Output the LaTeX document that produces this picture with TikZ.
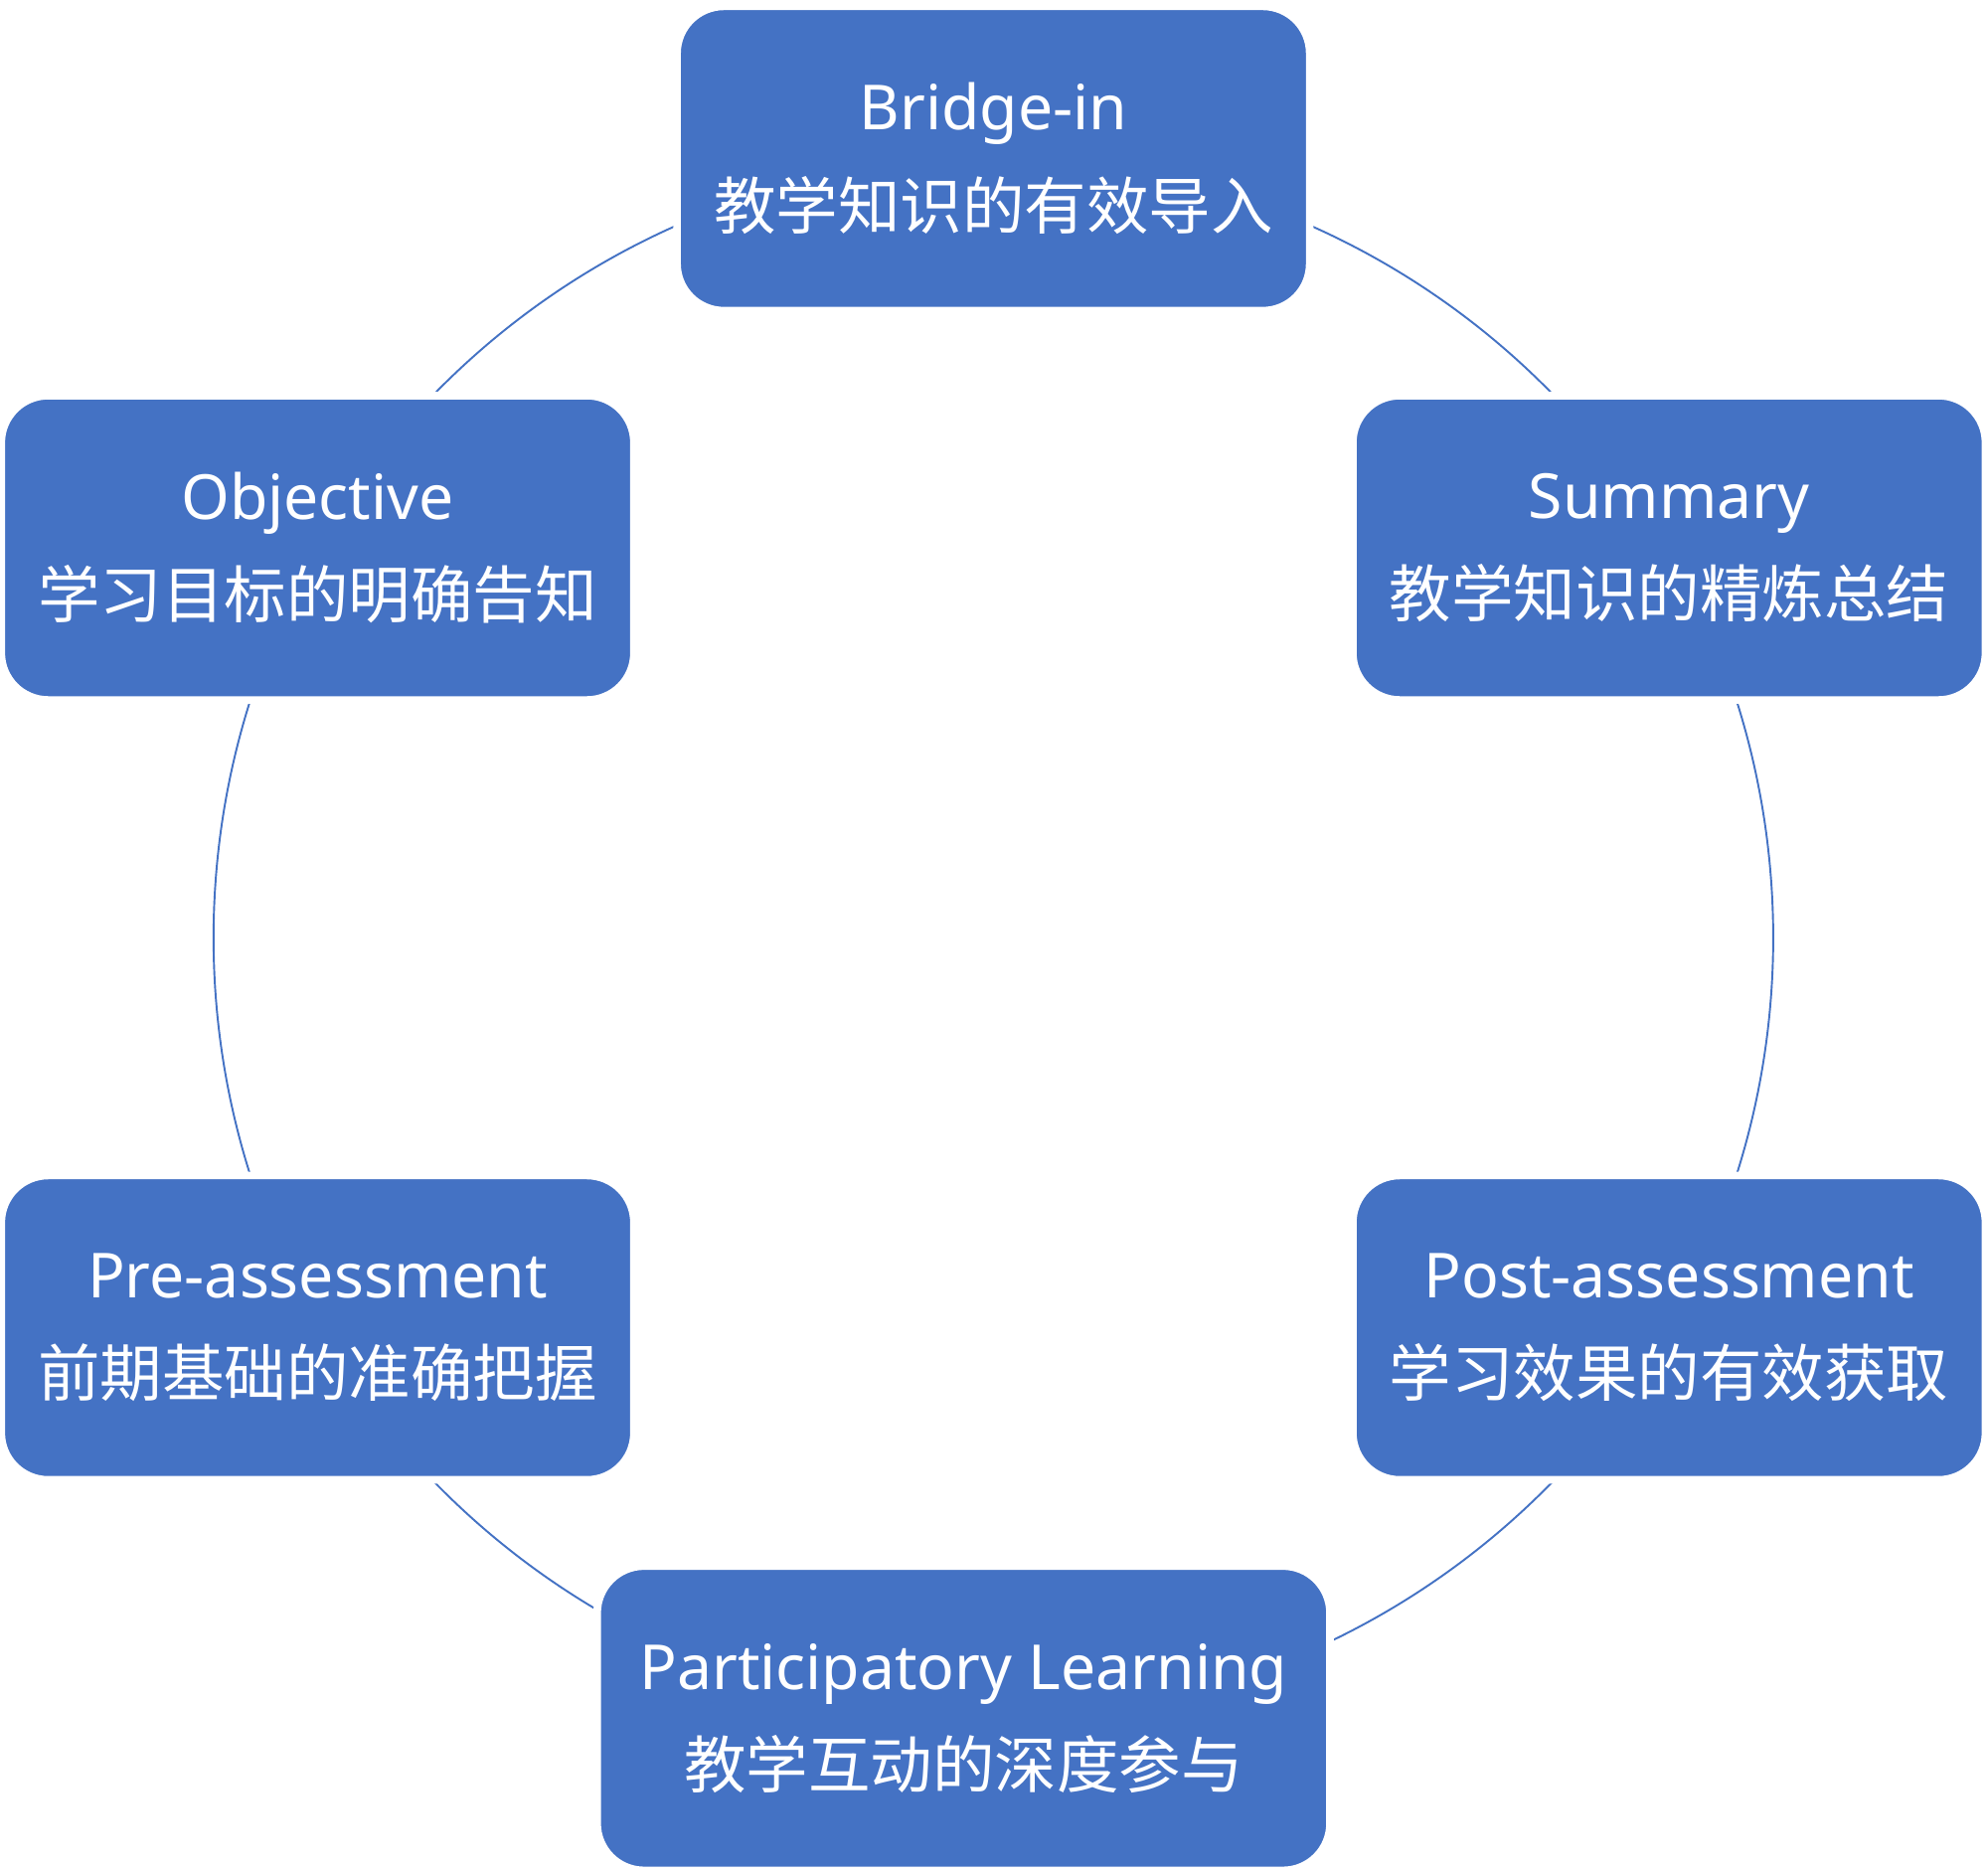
\documentclass[tikz,border=0pt]{standalone}
\usepackage{fontspec}
\setmainfont{Noto Sans}
\newfontfamily\cjk{Noto Sans CJK SC}
\definecolor{boxblue}{HTML}{4472C4}
\pgfdeclarelayer{background}
\pgfsetlayers{background,main}
\begin{document}
\begin{tikzpicture}[x=1pt,y=1pt,
  stage/.style={fill=boxblue, draw=white, line width=6pt, rounded corners=37pt,
    minimum width=499pt, minimum height=240pt, text=white, align=center,
    font=\fontsize{49}{78}\selectfont, inner sep=0pt},
  ring/.style={draw=boxblue, line width=1.5pt, bend right=30, looseness=0.9126}]
\useasboundingbox (0,0) rectangle (1568,-1476);
\node[stage] (b) at (783.5,-125) {Bridge-in\\{\cjk 教学知识的有效导入}};
\node[stage] (o) at (250.5,-432) {Objective\\{\cjk 学习目标的明确告知}};
\node[stage] (s) at (1316.5,-432) {Summary\\{\cjk 教学知识的精炼总结}};
\node[stage] (pre) at (250.5,-1047) {Pre-assessment\\{\cjk 前期基础的准确把握}};
\node[stage] (post) at (1316.5,-1047) {Post-assessment\\{\cjk 学习效果的有效获取}};
\node[stage, minimum width=578pt] (p) at (760,-1355) {Participatory Learning\\{\cjk 教学互动的深度参与}};
\coordinate (pb) at (783,-1355);
\begin{pgfonlayer}{background}
\fill[white] (0,0) rectangle (1568,-1476);
\draw[ring] (b.center) to (o.center);
\draw[ring] (o.center) to (pre.center);
\draw[ring] (pre.center) to (pb);
\draw[ring] (pb) to (post.center);
\draw[ring] (post.center) to (s.center);
\draw[ring] (s.center) to (b.center);
\end{pgfonlayer}
\end{tikzpicture}
\end{document}
